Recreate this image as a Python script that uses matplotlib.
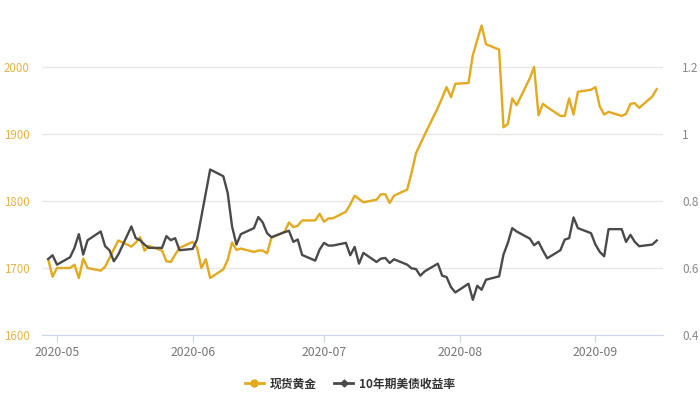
#!/usr/bin/env python
# coding: utf-8

import numpy as np
import pandas as pd
import matplotlib.pyplot as plt
import matplotlib.dates as mdates

plt.rcParams['font.family'] = ['Noto Sans CJK SC', 'DejaVu Sans']

# trading days, 2020-04-29 .. 2020-09-15
dates = pd.bdate_range('2020-04-29', '2020-09-15')

gold_apr = [1713, 1687]
gold_may = [1700, 1700, 1705, 1685, 1714, 1700, 1696, 1702, 1715, 1728, 1741,
            1732, 1738, 1746, 1726, 1733, 1726, 1710, 1709, 1720, 1730]
gold_jun = [1739, 1730, 1700, 1713, 1685, 1698, 1712, 1738, 1727, 1729, 1724,
            1726, 1726, 1722, 1745, 1754, 1768, 1761, 1763, 1771, 1771, 1781]
gold_jul = [1769, 1774, 1774, 1784, 1795, 1808, 1803, 1798, 1802, 1810, 1810,
            1797, 1808, 1817, 1842, 1871, 1885, 1899, 1939, 1954, 1970, 1955, 1975]
gold_aug = [1976, 2018, 2040, 2062, 2034, 2026, 1910, 1915, 1953, 1943, 1983,
            2000, 1928, 1945, 1940, 1927, 1927, 1953, 1929, 1963, 1966]
gold_sep = [1970, 1941, 1929, 1933, 1927, 1930, 1945, 1946, 1939, 1956, 1967]

yld_apr = [0.627, 0.638]
yld_may = [0.610, 0.632, 0.660, 0.701, 0.640, 0.683, 0.709, 0.665, 0.653, 0.620, 0.640,
           0.724, 0.689, 0.683, 0.670, 0.660, 0.660, 0.695, 0.683, 0.689, 0.653]
yld_jun = [0.657, 0.685, 0.754, 0.824, 0.894, 0.874, 0.824, 0.724, 0.670, 0.701, 0.719,
           0.752, 0.736, 0.704, 0.692, 0.707, 0.711, 0.678, 0.685, 0.639, 0.622, 0.655]
yld_jul = [0.675, 0.667, 0.667, 0.675, 0.638, 0.663, 0.613, 0.645, 0.618, 0.628, 0.630,
           0.615, 0.626, 0.610, 0.599, 0.597, 0.577, 0.590, 0.613, 0.577, 0.573, 0.543, 0.527]
yld_aug = [0.553, 0.505, 0.547, 0.535, 0.565, 0.575, 0.640, 0.675, 0.719, 0.709, 0.688,
           0.668, 0.678, 0.652, 0.629, 0.653, 0.685, 0.689, 0.751, 0.719, 0.704]
yld_sep = [0.670, 0.648, 0.635, 0.716, 0.716, 0.678, 0.699, 0.678, 0.665, 0.670, 0.682]

gold = gold_apr + gold_may + gold_jun + gold_jul + gold_aug + gold_sep
yld = yld_apr + yld_may + yld_jun + yld_jul + yld_aug + yld_sep

gold_ticks = [1600, 1700, 1800, 1900, 2000]
yld_ticks = [0.4, 0.6, 0.8, 1.0, 1.2]
yld_labels = ['0.4', '0.6', '0.8', '1', '1.2']

c_gold = '#E3A91F'
c_dark = '#4A4A4A'

fig = plt.figure(figsize=(7, 4), dpi=100)
ax = fig.add_axes([0.06, 0.1625, 0.887, 0.8375])
ax2 = ax.twinx()

l1, = ax.plot(dates, gold, color=c_gold, lw=1.7, label='现货黄金', zorder=3)
l2, = ax2.plot(dates, yld, color=c_dark, lw=1.7, label='10年期美债收益率', zorder=3)

ax.set_ylim(1600, 2100)
ax2.set_ylim(0.4, 1.4)
ax.set_yticks(gold_ticks)
ax2.set_yticks(yld_ticks)
ax2.set_yticklabels(yld_labels)
ax.set_xlim(pd.Timestamp('2020-04-27 14:00'), pd.Timestamp('2020-09-16 10:00'))

ax.xaxis.set_major_locator(mdates.MonthLocator())
ax.xaxis.set_major_formatter(mdates.DateFormatter('%Y-%m'))

ax.grid(axis='y', color='#E6E6E6', lw=1)
ax.set_axisbelow(True)
for a in (ax, ax2):
    for s in ('top', 'left', 'right'):
        a.spines[s].set_visible(False)
ax.spines['bottom'].set_color('#CCD6EB')
ax2.spines['bottom'].set_visible(False)

ax.tick_params(axis='y', length=0, pad=9, labelsize=8.3, labelcolor='#E8B44A')
ax2.tick_params(axis='y', length=0, pad=14, labelsize=8.5, labelcolor='#888888')
ax.tick_params(axis='x', length=5, color='#CCD6EB', pad=3, labelsize=8.8, labelcolor='#777777')

h1 = plt.Line2D([], [], color=c_gold, lw=2, marker='o', markersize=5)
h2 = plt.Line2D([], [], color=c_dark, lw=2, marker='D', markersize=3.5)
fig.legend([h1, h2], ['现货黄金', '10年期美债收益率'], loc='center',
           bbox_to_anchor=(0.5, 0.04), ncol=2, frameon=False,
           handlelength=1.6, columnspacing=1.5, handletextpad=0.5,
           prop={'weight': 'bold', 'size': 8.5})
for t in fig.legends[0].get_texts():
    t.set_color('#333333')

plt.savefig('out.png', dpi=100)
